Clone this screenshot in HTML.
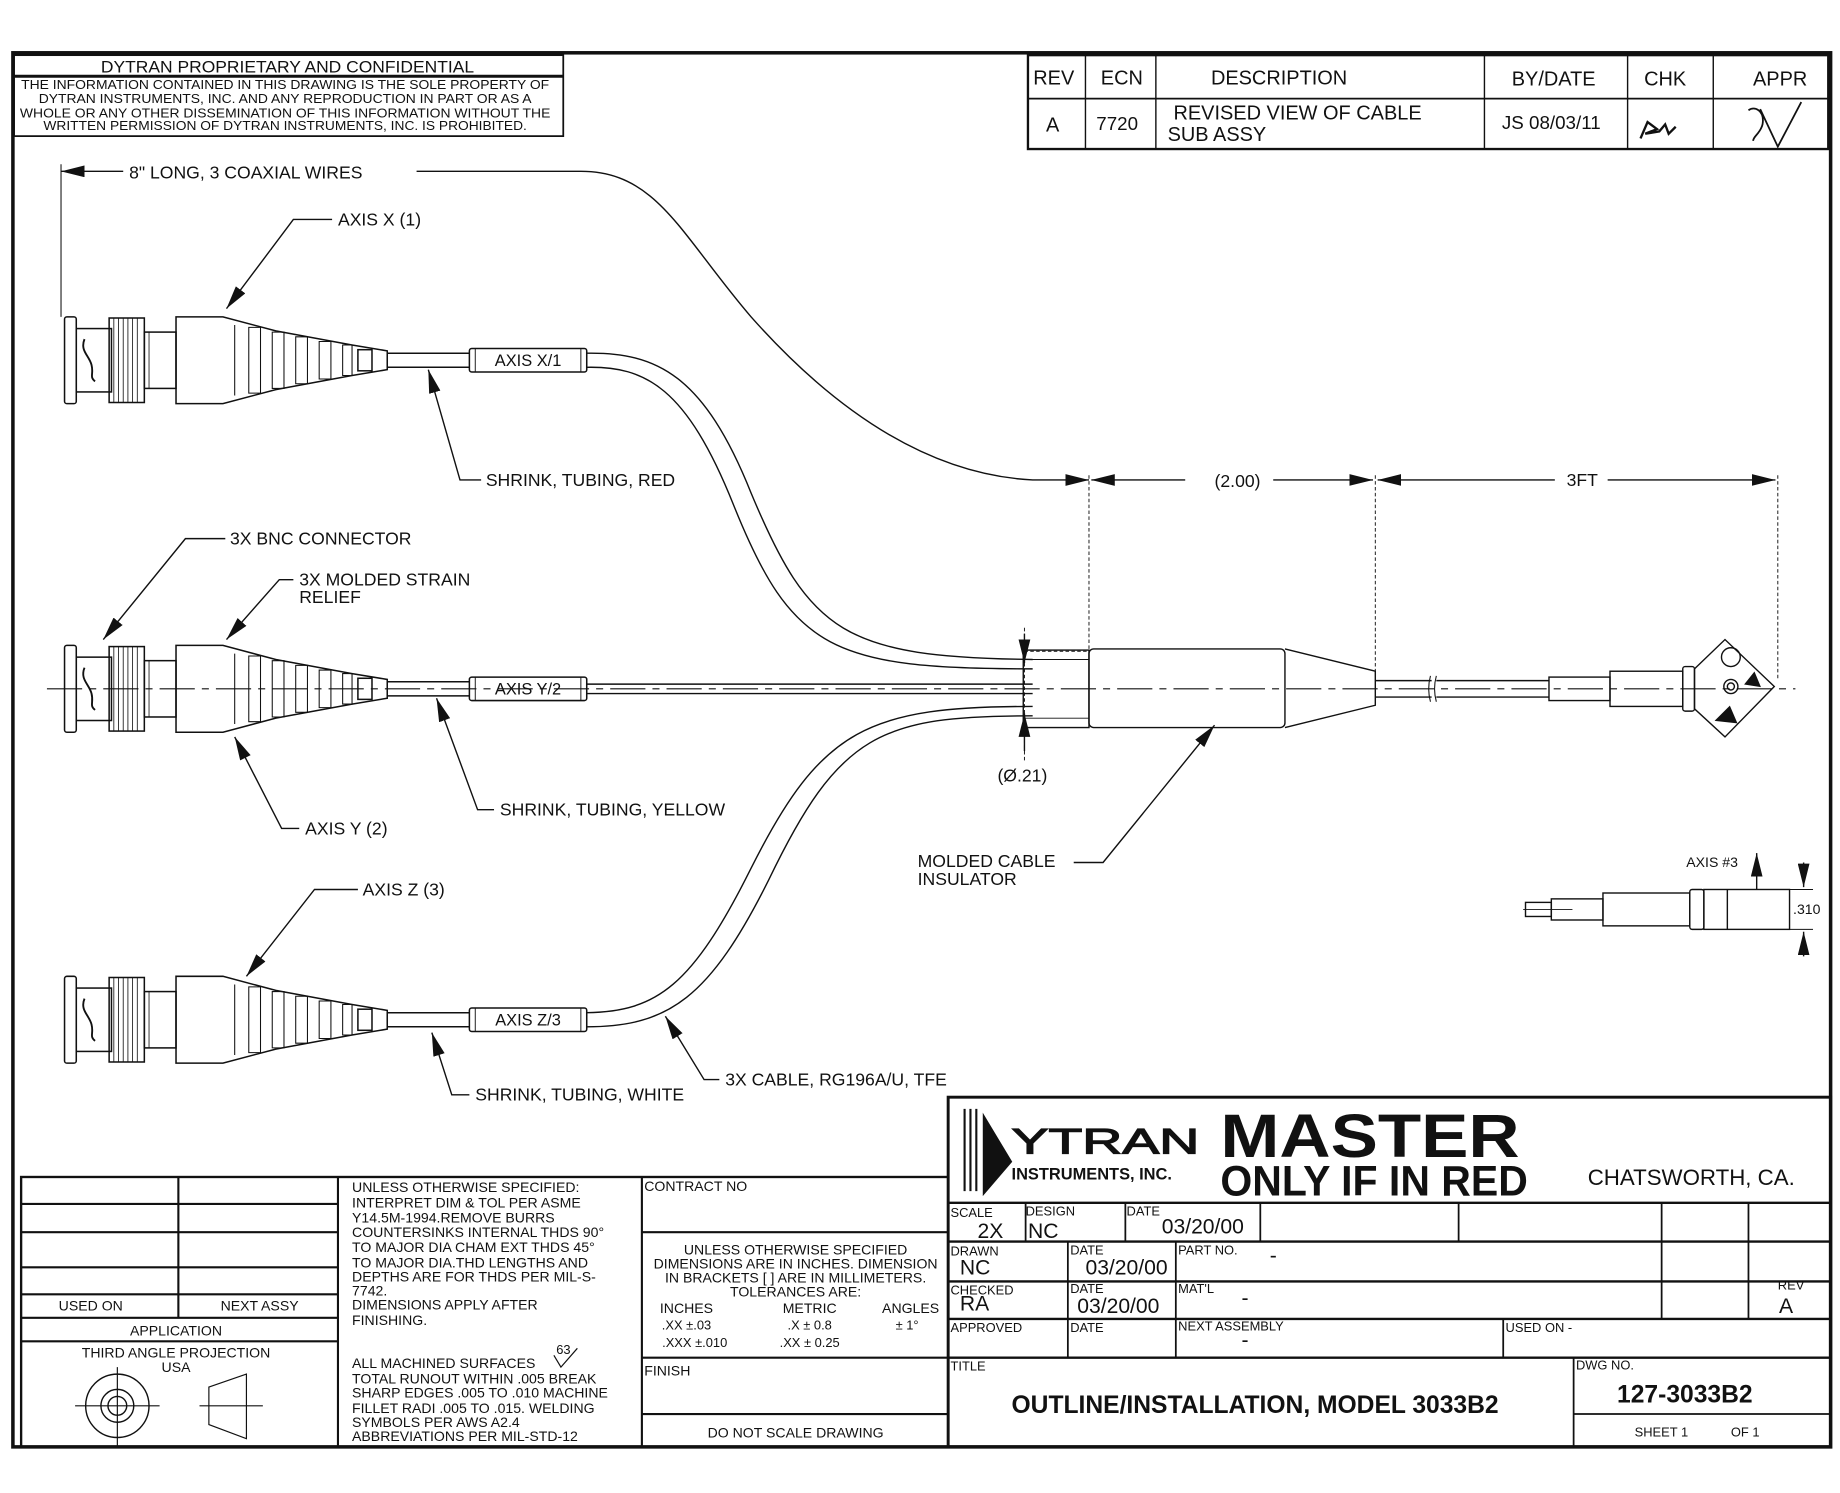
<!DOCTYPE html>
<html><head><meta charset="utf-8"><style>
html,body{margin:0;padding:0;background:#fff}
svg{display:block}
text{font-family:"Liberation Sans",sans-serif;fill:#111}
</style></head><body>
<svg width="1840" height="1493" viewBox="0 0 1568 1272.3" preserveAspectRatio="none" xmlns="http://www.w3.org/2000/svg">
<defs>
<marker id="ah" viewBox="0 0 12 6" refX="12" refY="3" markerWidth="20" markerHeight="10" markerUnits="userSpaceOnUse" orient="auto"><path d="M0,0 L12,3 L0,6 Z" fill="#111"/></marker>
<g id="con" fill="none" stroke="#111" stroke-width="1.3">
<rect x="55" y="-37" width="10" height="74" rx="2"/>
<rect x="65" y="-27" width="30" height="54"/>
<path d="M72 -18 c-4 10 4 14 6 22 c2 8 -2 10 3 14" stroke-width="1.6"/>
<rect x="93" y="-36" width="30" height="72"/>
<path d="M97 -36V36M101 -36V36M105 -36V36M109 -36V36M113 -36V36M117 -36V36" stroke-width="0.7"/>
<rect x="123" y="-24" width="27" height="48"/>
<path d="M127 -24V24" stroke-width="0.7"/>
<path d="M150 -37H190L235 -25L300 -13L330 -8V8L300 13L235 25L190 37H150Z"/>
<path d="M200 -30V30M212 -28 h10 v56 h-10z M232 -24 h10 v48 h-10z M252 -20 h10 v40 h-10z M272 -16 h10 v32 h-10z M292 -13 h8 v26 h-8z" stroke-width="0.9"/>
<rect x="305" y="-9" width="12" height="18"/>
<path d="M330 -6H400M330 6H400"/>
<rect x="400" y="-10" width="100" height="20" rx="2"/>
<path d="M405 -10V10M495 -10V10" stroke-width="0.8"/>
</g>
</defs>
<g fill="none" stroke="#111">
<rect x="11" y="45" width="1549" height="1188" stroke-width="3"/>
<rect x="12" y="47" width="468" height="69" stroke-width="1.5"/>
<line x1="12" y1="65" x2="480" y2="65" stroke-width="2.5"/>
<rect x="876" y="47" width="682" height="80" stroke-width="2"/>
<line x1="876" y1="84" x2="1558" y2="84" stroke-width="1.5"/>
<path d="M925 47V127M985 47V127M1265 47V127M1387 47V127M1460 47V127" stroke-width="1.2"/>
<path d="M1398 118 l6 -14 l8 6 l-10 4 l12 -2 l5 -6 l3 8 l6 -6" stroke-width="2"/>
<path d="M1490 94 c5 -4 14 0 12 12 c-2 8 -8 10 -8 14 M1500 93 l15 32 l20 -38" stroke-width="1.5"/>
</g>
<text x="245" y="62" font-size="14" text-anchor="middle" textLength="318" lengthAdjust="spacingAndGlyphs">DYTRAN PROPRIETARY AND CONFIDENTIAL</text>
<g font-size="11" text-anchor="middle">
<text x="243" y="76" textLength="450" lengthAdjust="spacingAndGlyphs">THE INFORMATION CONTAINED IN THIS DRAWING IS THE SOLE PROPERTY OF</text>
<text x="243" y="88" textLength="420" lengthAdjust="spacingAndGlyphs">DYTRAN INSTRUMENTS, INC. AND ANY REPRODUCTION IN PART OR AS A</text>
<text x="243" y="100" textLength="452" lengthAdjust="spacingAndGlyphs">WHOLE OR ANY OTHER DISSEMINATION OF THIS INFORMATION WITHOUT THE</text>
<text x="243" y="111" textLength="412" lengthAdjust="spacingAndGlyphs">WRITTEN PERMISSION OF DYTRAN INSTRUMENTS, INC. IS PROHIBITED.</text>
</g>
<g font-size="17" text-anchor="middle">
<text x="898" y="72">REV</text><text x="956" y="72">ECN</text><text x="1090" y="72">DESCRIPTION</text><text x="1324" y="73">BY/DATE</text><text x="1419" y="73">CHK</text><text x="1517" y="73">APPR</text>
<text x="897" y="112">A</text><text x="952" y="111" font-size="16">7720</text><text x="1322" y="110" font-size="16">JS 08/03/11</text>
</g>
<text x="1000" y="102" font-size="17">REVISED VIEW OF CABLE</text>
<text x="995" y="120" font-size="17">SUB ASSY</text>

<g fill="none" stroke="#111" stroke-width="1.2">
<path d="M40 587H1530" stroke-width="0.9" stroke-dasharray="30,6,6,6"/>
<line x1="52" y1="140" x2="52" y2="270" stroke-width="0.9"/>
<line x1="105" y1="146" x2="52" y2="146" marker-end="url(#ah)"/>
<path d="M355 146 H495 C560 146 580 200 640 270 C720 360 800 405 880 409 H928" marker-end="url(#ah)"/>
<path d="M928 405V553M1172 405V573M1515 405V580" stroke-width="0.8" stroke-dasharray="3,2"/>
<line x1="1010" y1="409" x2="930" y2="409" marker-end="url(#ah)"/>
<line x1="1085" y1="409" x2="1170" y2="409" marker-end="url(#ah)"/>
<line x1="1325" y1="409" x2="1174" y2="409" marker-end="url(#ah)"/>
<line x1="1370" y1="409" x2="1513" y2="409" marker-end="url(#ah)"/>
<path d="M873 535V650" stroke-width="0.8" stroke-dasharray="3,2"/>
<line x1="873" y1="540" x2="873" y2="565" marker-end="url(#ah)"/>
<line x1="873" y1="640" x2="873" y2="608" marker-end="url(#ah)"/>
<path d="M873 555H928M873 620H928" stroke-width="0.8" stroke-dasharray="3,2"/>

<path d="M500 301 C560 300 600 320 640 420 C690 540 720 560 880 562"/>
<path d="M500 313 C550 312 585 330 625 430 C675 555 710 570 880 570"/>
<path d="M500 583H880M500 591H880"/>
<path d="M500 863 C560 862 590 840 640 740 C700 620 740 602 880 602"/>
<path d="M500 875 C570 875 605 850 655 750 C715 625 750 610 880 610"/>

<rect x="872" y="554" width="56" height="66"/>
<path d="M872 562H928M872 612H928" stroke-width="0.8"/>
<rect x="928" y="553" width="167" height="67" rx="4"/>
<path d="M1095 553 L1172 572 V601 L1095 620"/>
<path d="M1172 580H1220M1224 580H1320M1172 594H1220M1224 594H1320"/>
<path d="M1219 576 q-3 11 0 22M1224 576 q-3 11 0 22" stroke-width="0.9"/>
<rect x="1320" y="577" width="52" height="20"/>
<rect x="1372" y="572" width="62" height="30"/>
<rect x="1434" y="568" width="10" height="38" rx="2"/>
<path d="M1444 570 L1470 545 L1512 585 L1470 628 L1444 604 Z"/>
<circle cx="1475" cy="560" r="8"/><circle cx="1475" cy="585" r="6"/><circle cx="1475" cy="585" r="3"/>
<path d="M1487 583 l8 -10 l5 12 z M1462 614 l12 -12 l6 14 z" fill="#111" stroke-width="0.8"/>
<path d="M1298 775H1340" stroke-width="0.8"/>
<rect x="1300" y="769" width="22" height="12"/>
<rect x="1322" y="766" width="44" height="18"/>
<rect x="1366" y="761" width="74" height="28"/>
<rect x="1440" y="758" width="12" height="34" rx="2"/>
<rect x="1452" y="758" width="73" height="34"/>
<line x1="1472" y1="758" x2="1472" y2="792"/>
<line x1="1497" y1="758" x2="1497" y2="727" marker-end="url(#ah)"/>
<path d="M1525 758H1545M1525 792H1545" stroke-width="0.8"/>
<line x1="1537" y1="735" x2="1537" y2="756" marker-end="url(#ah)"/>
<line x1="1537" y1="815" x2="1537" y2="794" marker-end="url(#ah)"/>

<path d="M283 187H250L193 263" marker-end="url(#ah)"/>
<path d="M410 409H392L365 315" marker-end="url(#ah)"/>
<path d="M192 459H158L88 545" marker-end="url(#ah)"/>
<path d="M250 494H238L193 545" marker-end="url(#ah)"/>
<path d="M255 706H240L200 628" marker-end="url(#ah)"/>
<path d="M421 690H407L372 595" marker-end="url(#ah)"/>
<path d="M305 758H268L210 832" marker-end="url(#ah)"/>
<path d="M400 933H385L368 880" marker-end="url(#ah)"/>
<path d="M613 920H600L567 866" marker-end="url(#ah)"/>
<path d="M915 735H940L1035 618" marker-end="url(#ah)"/>
</g>

<use href="#con" transform="translate(0,307)"/>
<use href="#con" transform="translate(0,587)"/>
<use href="#con" transform="translate(0,869)"/>

<g font-size="15">
<text x="110" y="152">8" LONG, 3 COAXIAL WIRES</text>
<text x="288" y="192">AXIS X (1)</text>
<text x="414" y="414">SHRINK, TUBING, RED</text>
<text x="196" y="464">3X BNC CONNECTOR</text>
<text x="255" y="499">3X MOLDED STRAIN</text>
<text x="255" y="514">RELIEF</text>
<text x="260" y="711">AXIS Y (2)</text>
<text x="426" y="695">SHRINK, TUBING, YELLOW</text>
<text x="309" y="763">AXIS Z (3)</text>
<text x="405" y="938">SHRINK, TUBING, WHITE</text>
<text x="618" y="925">3X CABLE, RG196A/U, TFE</text>
<text x="782" y="739">MOLDED  CABLE</text>
<text x="782" y="754">INSULATOR</text>
<text x="1035" y="415">(2.00)</text>
<text x="1335" y="414">3FT</text>
<text x="850" y="666">(Ø.21)</text>
</g>
<g font-size="14" text-anchor="middle">
<text x="450" y="312">AXIS X/1</text><text x="450" y="592">AXIS Y/2</text><text x="450" y="874">AXIS Z/3</text>
</g>
<text x="1437" y="739" font-size="12">AXIS #3</text>
<text x="1528" y="779" font-size="12">.310</text>

<g fill="none" stroke="#111">
<rect x="808" y="935" width="752" height="298" stroke-width="2.5"/>
<path d="M808 1025H1560M808 1058H1560M808 1092H1560M808 1124H1560M808 1157H1560" stroke-width="2"/>
<path d="M874 1025V1058M959 1025V1058M1074 1025V1058M1243 1025V1058M1416 1025V1124M1490 1025V1124M910 1058V1157M1002 1058V1157M1281 1124V1157M1341 1157V1233M1341 1205H1560" stroke-width="1.5"/>
<path d="M822 945V1015M827 945V1015M832 945V1015" stroke-width="1.8"/>
<path d="M838 950 L862 990 L838 1018 Z" fill="#111"/>
<rect x="18" y="1003" width="790" height="230" stroke-width="2"/>
<path d="M18 1026H288M18 1050H288M18 1080H288M18 1103H288M18 1123H288M18 1143H288M152 1003V1123M288 1003V1233M547 1003V1233M547 1050H808M547 1157H808M547 1205H808" stroke-width="1.8"/>
<circle cx="100" cy="1198" r="27" stroke-width="1.2"/><circle cx="100" cy="1198" r="14" stroke-width="1.2"/><circle cx="100" cy="1198" r="8" stroke-width="1.2"/>
<path d="M64 1198H136M100 1165V1232M170 1198H224M178 1182L210 1171V1226L178 1214Z" stroke-width="1"/>
<path d="M472 1155 l6 10 l14 -16" stroke-width="1"/>
</g>
<text x="862" y="983" font-size="30" textLength="160" lengthAdjust="spacingAndGlyphs" fill="none" stroke="#111" stroke-width="1">YTRAN</text>
<text x="862" y="1005" font-size="14" font-weight="bold">INSTRUMENTS, INC.</text>
<text x="1040" y="986" font-size="52" font-weight="bold" textLength="255" lengthAdjust="spacingAndGlyphs">MASTER</text>
<text x="1040" y="1019" font-size="36" font-weight="bold" textLength="262" lengthAdjust="spacingAndGlyphs">ONLY IF IN RED</text>
<text x="1353" y="1010" font-size="19">CHATSWORTH,  CA.</text>
<g font-size="11">
<text x="810" y="1037">SCALE</text><text x="874" y="1036">DESIGN</text><text x="960" y="1036">DATE</text>
<text x="810" y="1070">DRAWN</text><text x="912" y="1069">DATE</text><text x="1004" y="1069">PART NO.</text>
<text x="810" y="1103">CHECKED</text><text x="912" y="1102">DATE</text><text x="1004" y="1102">MAT'L</text><text x="1515" y="1099">REV</text>
<text x="810" y="1135">APPROVED</text><text x="912" y="1135">DATE</text><text x="1004" y="1134">NEXT ASSEMBLY</text><text x="1283" y="1135">USED ON -</text>
<text x="810" y="1168">TITLE</text><text x="1343" y="1167">DWG NO.</text>
<text x="1393" y="1224">SHEET 1</text><text x="1475" y="1224">OF 1</text>
</g>
<g font-size="18">
<text x="833" y="1055">2X</text><text x="876" y="1055">NC</text><text x="990" y="1051">03/20/00</text>
<text x="818" y="1086">NC</text><text x="925" y="1086">03/20/00</text><text x="1082" y="1076">-</text>
<text x="818" y="1117">RA</text><text x="918" y="1119">03/20/00</text><text x="1058" y="1112">-</text><text x="1516" y="1119">A</text>
<text x="1058" y="1148">-</text>
</g>
<text x="862" y="1204" font-size="21" font-weight="bold">OUTLINE/INSTALLATION, MODEL 3033B2</text>
<text x="1378" y="1195" font-size="21" font-weight="bold">127-3033B2</text>

<g font-size="12">
<text x="300" y="1016">UNLESS OTHERWISE SPECIFIED:</text>
<text x="300" y="1029">INTERPRET DIM &amp; TOL PER ASME</text>
<text x="300" y="1042">Y14.5M-1994.REMOVE BURRS</text>
<text x="300" y="1054">COUNTERSINKS INTERNAL THDS 90°</text>
<text x="300" y="1067">TO MAJOR DIA CHAM EXT THDS 45°</text>
<text x="300" y="1080">TO MAJOR DIA.THD LENGTHS AND</text>
<text x="300" y="1092">DEPTHS ARE FOR THDS PER MIL-S-</text>
<text x="300" y="1104">7742.</text>
<text x="300" y="1116">DIMENSIONS APPLY AFTER</text>
<text x="300" y="1129">FINISHING.</text>
<text x="474" y="1154" font-size="11">63</text>
<text x="300" y="1166">ALL MACHINED SURFACES</text>
<text x="300" y="1179">TOTAL RUNOUT WITHIN .005  BREAK</text>
<text x="300" y="1191">SHARP EDGES .005 TO .010  MACHINE</text>
<text x="300" y="1204">FILLET RADI .005 TO .015.  WELDING</text>
<text x="300" y="1216">SYMBOLS PER AWS A2.4</text>
<text x="300" y="1228">ABBREVIATIONS PER MIL-STD-12</text>
<text x="549" y="1015">CONTRACT NO</text>
<text x="549" y="1172">FINISH</text>
<text x="50" y="1117">USED ON</text><text x="188" y="1117">NEXT ASSY</text>
</g>
<g font-size="12" text-anchor="middle">
<text x="150" y="1138">APPLICATION</text>
<text x="150" y="1157">THIRD ANGLE PROJECTION</text>
<text x="150" y="1169">USA</text>
<text x="678" y="1069">UNLESS OTHERWISE SPECIFIED</text>
<text x="678" y="1081">DIMENSIONS ARE IN INCHES.  DIMENSION</text>
<text x="678" y="1093">IN BRACKETS [ ] ARE IN MILLIMETERS.</text>
<text x="678" y="1105">TOLERANCES ARE:</text>
<text x="585" y="1119">INCHES</text><text x="690" y="1119">METRIC</text><text x="776" y="1119">ANGLES</text>
<text x="585" y="1133" font-size="11">.XX ±.03</text><text x="690" y="1133" font-size="11">.X ± 0.8</text><text x="773" y="1133" font-size="11">± 1°</text>
<text x="592" y="1148" font-size="11">.XXX ±.010</text><text x="690" y="1148" font-size="11">.XX ± 0.25</text>
<text x="678" y="1225">DO NOT SCALE DRAWING</text>
</g>
</svg>
</body></html>
